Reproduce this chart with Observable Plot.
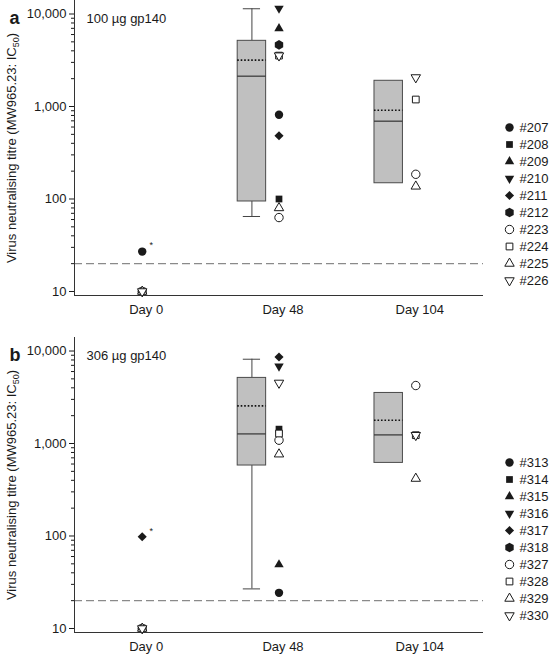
<!DOCTYPE html>
<html><head><meta charset="utf-8">
<script src="https://cdn.jsdelivr.net/npm/d3@7"></script>
<script src="https://cdn.jsdelivr.net/npm/@observablehq/plot@0.6"></script>
<style>
body{margin:0;background:#fff;}
.panel{position:relative;width:550px;}
.panel svg{display:block;}
.panel .legend{position:absolute;left:0;top:0;}
</style></head><body><div id="chart"></div>
<script>
// ---- data ----
const days = ["Day 0", "Day 48", "Day 104"];
const dayPos = [1, 2, 3];
const shapes = ["circle","square","triangle","triangle-down","diamond","hexagon","circle","square","triangle","triangle-down"];
const filled = [true,true,true,true,true,true,false,false,false,false];

const animalsA = ["#207","#208","#209","#210","#211","#212","#223","#224","#225","#226"];
const day0A   = [27, null, null, null, null, null, 10, 10, 10, 10];
const day48A  = [813, 100, 6970, 11500, 482, 4640, 63, 3550, 80, 3550];
const day104A = [null, null, null, null, null, null, 185, 1190, 137, 2060];
const asteriskA = ["#207"];

const animalsB = ["#313","#314","#315","#316","#317","#318","#327","#328","#329","#330"];
const day0B   = [null, null, null, null, 98, null, 10, 10, 10, 10];
const day48B  = [24.3, 1430, 49, 6850, 8630, null, 1086, 1283, 766, 4520];
const day104B = [null, null, null, null, null, null, 4236, 1230, 418, 1230];
const asteriskB = ["#317"];

// box summaries (Day 48, Day 104)
const boxDays = [2, 3];
const lowA  = [64.7, null];
const q1A   = [94, 148];
const medA  = [2128, 694];
const meanA = [3170, 912];
const q3A   = [5130, 1897];
const highA = [11400, null];

const lowB  = [26.8, null];
const q1B   = [578, 617];
const medB  = [1270, 1239];
const meanB = [2550, 1786];
const q3B   = [5120, 3520];
const highB = [8150, null];

const detectionLimit = 20;
const majorTicks = [10, 100, 1000, 10000];
const yDomain = [9.05, 14000];
const xDomain = [0.505, 3.495];
const yTitle = ["Virus neutralising titre (MW965.23: IC", "50", ")"];

// ---- styling ----
const FONT = '"Liberation Sans", Arial, Helvetica, sans-serif';
const INK = "#1a1a1a";
const boxOffset = 0.198, boxHalf = 0.104, capHalf = 0.063;

function shapeStyle(shape) {
  switch (shape) {
    case "circle": return {symbol: "circle", r: 4.2, rotate: 0};
    case "square": return {symbol: "square", r: 3.8, rotate: 0};
    case "triangle": return {symbol: "triangle", r: 3.5, rotate: 0};
    case "triangle-down": return {symbol: "triangle", r: 3.5, rotate: 180};
    case "diamond": return {symbol: "diamond2", r: 4.1, rotate: 0};
    case "hexagon": return {symbol: "hexagon", r: 4.2, rotate: 0};
  }
}

const minorTicks = [];
for (const base of [10, 100, 1000]) for (let k = 2; k <= 9; k++) minorTicks.push(base * k);

function animalDots(rows, xAcc, yAcc, ids) {
  return ids.map((id, i) => {
    const st = shapeStyle(shapes[i]);
    return Plot.dot(rows.filter(r => r.id === id), {
      x: xAcc, y: yAcc, symbol: st.symbol, r: st.r, rotate: st.rotate,
      fill: filled[i] ? INK : "white",
      stroke: filled[i] ? "none" : INK,
      strokeWidth: 1
    });
  });
}

function panel(opts) {
  const {letter, group, ids, series, asterisks, low, q1, med, mean, q3, high, height, marginTop, marginBottom, legendTop, legendBottom} = opts;
  const rows = [];
  series.forEach((vals, d) => vals.forEach((v, i) => {
    if (v != null) rows.push({x: dayPos[d], y: v, id: ids[i]});
  }));
  const boxes = boxDays.map((x, j) => ({x: x - boxOffset, low: low[j], q1: q1[j], med: med[j], mean: mean[j], q3: q3[j], high: high[j]}));
  const whiskered = boxes.filter(b => b.high != null);
  const starRows = rows.filter(r => asterisks.includes(r.id) && r.x === 1);
  const titleText = yTitle.join("");

  const main = Plot.plot({
    width: 550, height, marginLeft: 74, marginRight: 67, marginTop, marginBottom,
    style: {fontFamily: FONT, fontSize: "13px", color: INK, background: "white", overflow: "visible"},
    x: {type: "linear", domain: xDomain},
    y: {type: "log", domain: yDomain},
    marks: [
      Plot.ruleY([detectionLimit], {stroke: "#8a8a8a", strokeWidth: 1.3, strokeDasharray: "8,4"}),
      // whiskers
      Plot.ruleX(whiskered, {x: "x", y1: "q3", y2: "high", stroke: "#444"}),
      Plot.ruleX(whiskered, {x: "x", y1: "low", y2: "q1", stroke: "#444"}),
      Plot.ruleY(whiskered, {y: "high", x1: d => d.x - capHalf, x2: d => d.x + capHalf, stroke: "#444"}),
      Plot.ruleY(whiskered, {y: "low", x1: d => d.x - capHalf, x2: d => d.x + capHalf, stroke: "#444"}),
      // boxes
      Plot.rect(boxes, {x1: d => d.x - boxHalf, x2: d => d.x + boxHalf, y1: "q1", y2: "q3", fill: "#c0c0c0", stroke: "#4a4a4a", strokeWidth: 1}),
      Plot.ruleY(boxes, {y: "med", x1: d => d.x - boxHalf, x2: d => d.x + boxHalf, stroke: "#333", strokeWidth: 1.2}),
      Plot.ruleY(boxes, {y: "mean", x1: d => d.x - boxHalf, x2: d => d.x + boxHalf, stroke: "#111", strokeWidth: 1.6, strokeDasharray: "1.6,1.9"}),
      // points
      ...animalDots(rows, "x", "y", ids),
      Plot.text(starRows, {x: "x", y: "y", text: () => "*", dx: 9, dy: -6, fontSize: 9, fill: INK}),
      // axes
      Plot.axisY({ticks: minorTicks, tickFormat: () => "", tickSize: 3, label: null}),
      Plot.axisY({ticks: majorTicks, tickFormat: d3.format(","), tickSize: 5, tickPadding: 3, label: null}),
      Plot.axisX({ticks: dayPos, tickFormat: d => days[dayPos.indexOf(d)], tickSize: 0, tickPadding: 9, dx: 4, label: null}),
      Plot.ruleX([xDomain[0]], {stroke: "#333"}),
      Plot.ruleY([yDomain[0]], {stroke: "#333"}),
      Plot.text([group], {frameAnchor: "top-left", dx: 12, dy: 13, textAnchor: "start", fontSize: 13}),
      Plot.text([letter], {frameAnchor: "top-left", dx: -65, dy: 11, fontSize: 18, fontWeight: "bold"}),
      Plot.text([titleText], {frameAnchor: "left", rotate: -90, dx: -63, fontSize: 13, textAnchor: "middle"})
    ]
  });

  // subscript in the axis title
  const ns = "http://www.w3.org/2000/svg";
  main.querySelectorAll("text").forEach(t => {
    if (t.textContent === titleText) {
      t.textContent = "";
      t.setAttribute("text-anchor", "middle");
      const a = document.createElementNS(ns, "tspan"); a.textContent = yTitle[0];
      const b = document.createElementNS(ns, "tspan"); b.textContent = yTitle[1];
      b.setAttribute("font-size", "9"); b.setAttribute("baseline-shift", "-3");
      const c = document.createElementNS(ns, "tspan"); c.textContent = yTitle[2];
      t.append(a, b, c);
    }
  });

  const legendRows = ids.map(id => ({id}));
  const legend = Plot.plot({
    width: 550, height, margin: 0,
    style: {fontFamily: FONT, fontSize: "13px", color: INK, background: "transparent"},
    x: {type: "linear", domain: [0, 1], range: [509, 540], axis: null},
    y: {type: "point", domain: ids, range: [legendTop, legendBottom], padding: 0, axis: null},
    marks: [
      ...animalDots(legendRows.map(d => ({...d, x: 0})), "x", "id", ids),
      Plot.text(ids, {x: () => 0, y: d => d, dx: 10, textAnchor: "start", fontSize: 13, fill: INK})
    ]
  });
  legend.classList.add("legend");

  const div = document.createElement("div");
  div.className = "panel";
  div.style.height = height + "px";
  div.append(main, legend);
  return div;
}

const chart = document.getElementById("chart");
chart.append(panel({
  letter: "a", group: "100 µg gp140", ids: animalsA, series: [day0A, day48A, day104A], asterisks: asteriskA,
  low: lowA, q1: q1A, med: medA, mean: meanA, q3: q3A, high: highA,
  height: 330, marginTop: 0, marginBottom: 35, legendTop: 125.5, legendBottom: 281.7
}));
chart.append(panel({
  letter: "b", group: "306 µg gp140", ids: animalsB, series: [day0B, day48B, day104B], asterisks: asteriskB,
  low: lowB, q1: q1B, med: medB, mean: meanB, q3: q3B, high: highB,
  height: 324, marginTop: 7, marginBottom: 22, legendTop: 131, legendBottom: 286.7
}));
</script></body></html>
